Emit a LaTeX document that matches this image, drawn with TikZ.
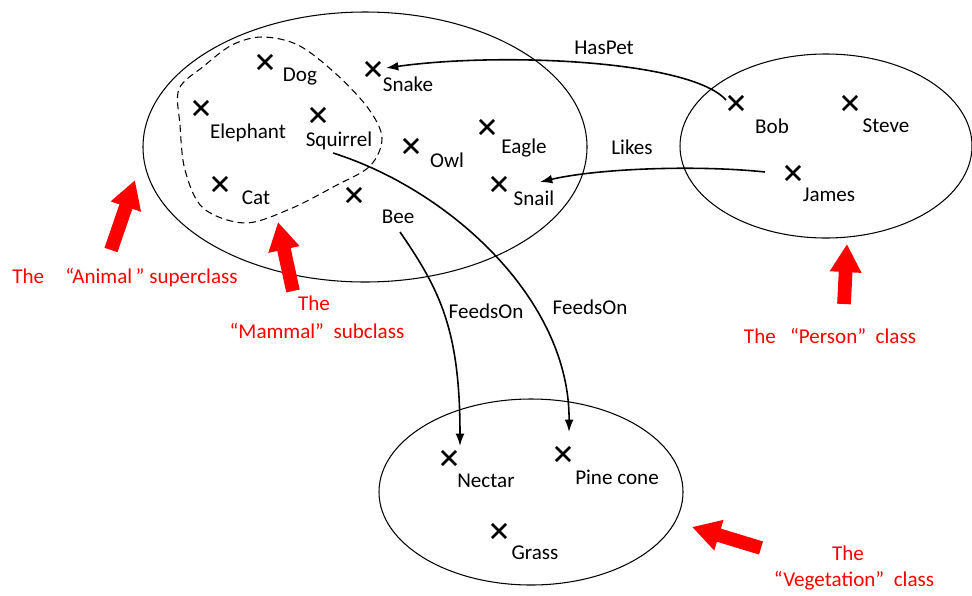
\documentclass[tikz,border=0pt]{standalone}
\usepackage{fontspec}
\setmainfont{Carlito}
\usetikzlibrary{arrows.meta,shapes.misc}
\begin{document}
\begin{tikzpicture}[x=0.02cm,y=-0.02cm,
  xmark/.style={cross out,draw=black,line width=1.5pt,minimum size=6.5pt,inner sep=0pt},
  lbl/.style={font=\fontsize{12}{14}\selectfont,inner sep=0pt,anchor=center},
  rlbl/.style={lbl,text=red},
  classset/.style={draw=black,line width=0.6pt},
  rel/.style={draw=black,line width=0.9pt,-{Latex[length=7pt,width=5pt]}},
  redarrow/.style={draw=red,line width=7.8pt,-{Triangle[length=16pt,width=17pt]}}]
\useasboundingbox (0,0) rectangle (972,595);
% class ellipses
\draw[classset] (365,147) ellipse [x radius=222, y radius=135];
\draw[classset] (826,146) ellipse [x radius=146, y radius=92];
\draw[classset] (531,492) ellipse [x radius=152, y radius=93];
% mammal subclass
\draw[black,line width=0.6pt,dash pattern=on 4pt off 2.5pt]
  plot[smooth cycle,tension=0.55] coordinates {(179,89) (180,125) (185,170) (203,208) (245,223) (290,209) (335,186) (370,166) (382,138) (368,108) (335,73) (298,45) (262,37) (232,45) (204,66)};
% members
\node[xmark] (dog) at (265,62) {};      \node[lbl] (dogL) at (300,77) {Dog};
\node[xmark] (snake) at (373,69) {};    \node[lbl] (snakeL) at (408,84) {Snake};
\node[xmark] (elephant) at (201,108) {};\node[lbl] (elephantL) at (248,133) {Elephant};
\node[xmark] (squirrel) at (318,115) {};\node[lbl] (squirrelL) at (339,141) {Squirrel};
\node[xmark] (owl) at (411,146) {};     \node[lbl] (owlL) at (447,160) {Owl};
\node[xmark] (eagle) at (487,127) {};   \node[lbl] (eagleL) at (524,148) {Eagle};
\node[xmark] (snail) at (499,184) {};   \node[lbl] (snailL) at (534,198) {Snail};
\node[xmark] (cat) at (220,184) {};     \node[lbl] (catL) at (256,198) {Cat};
\node[xmark] (bee) at (354,195) {};     \node[lbl] (beeL) at (398,217) {Bee};
\node[xmark] (bob) at (736,103) {};     \node[lbl] (bobL) at (772,126) {Bob};
\node[xmark] (steve) at (850,103) {};   \node[lbl] (steveL) at (886,126) {Steve};
\node[xmark] (james) at (793,173) {};   \node[lbl] (jamesL) at (829,195) {James};
\node[xmark] (nectar) at (449,458) {};  \node[lbl] (nectarL) at (486,481) {Nectar};
\node[xmark] (pine) at (563,454) {};    \node[lbl] (pineL) at (617,477) {Pine cone};
\node[xmark] (grass) at (499,531) {};   \node[lbl] (grassL) at (535,553) {Grass};
% connector ends
\coordinate (hpS) at (726,100); \coordinate (hpE) at (386,68);
\coordinate (lkS) at (765,172); \coordinate (lkE) at (540,182);
\coordinate (f1S) at (400,232); \coordinate (f1E) at (460,446);
\coordinate (f2S) at (333,153); \coordinate (f2E) at (569,432);
\draw[rel] (hpS) .. controls (690,60) and (500,52) .. (hpE);
\draw[rel] (lkS) .. controls (700,165) and (600,168) .. (lkE);
\draw[rel] (f1S) .. controls (440,290) and (460,330) .. (f1E);
\draw[rel] (f2S) .. controls (450,190) and (570,300) .. (f2E);
\node[lbl] (haspet) at (604,48) {HasPet};
\node[lbl] (likes) at (632,147) {Likes};
\node[lbl] (feeds1) at (486,311) {FeedsOn};
\node[lbl] (feeds2) at (590,307) {FeedsOn};
% red pointer arrows
\coordinate (a1T) at (111,250); \coordinate (a1H) at (135,180);
\coordinate (a2T) at (293,291); \coordinate (a2H) at (278,222);
\coordinate (a3T) at (844,304); \coordinate (a3H) at (847,244);
\coordinate (a4T) at (761,548); \coordinate (a4H) at (692,527);
\draw[redarrow] (a1T) -- (a1H);
\draw[redarrow] (a2T) -- (a2H);
\draw[redarrow] (a3T) -- (a3H);
\draw[redarrow] (a4T) -- (a4H);
% red captions
\node[rlbl] (animalC) at (125,278) {The\quad “Animal\,” superclass};
\node[rlbl] (mammalC1) at (314,303) {The};
\node[rlbl] (mammalC2) at (317,331) {“Mammal”\ \ subclass};
\node[rlbl] (personC) at (830,336) {The\ \ \ “Person”\ \ class};
\node[rlbl] (vegC1) at (848,553) {The};
\node[rlbl] (vegC2) at (854,581) {“Vegetation”\ \ class};
\end{tikzpicture}
\end{document}
